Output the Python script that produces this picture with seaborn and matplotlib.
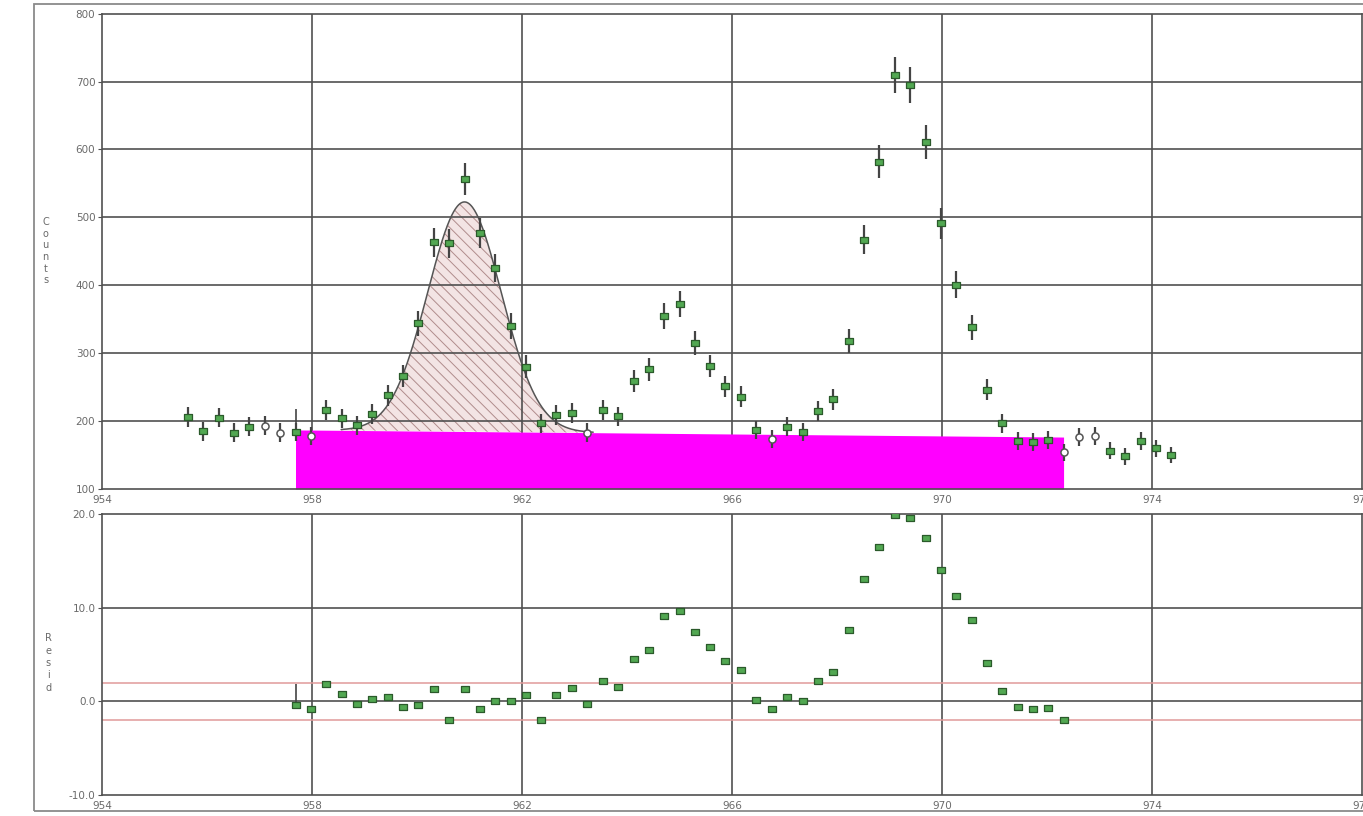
import numpy as np
import pandas as pd
import matplotlib
matplotlib.use("Agg")
import matplotlib.pyplot as plt
from matplotlib.patches import Rectangle
import seaborn as sns

# ---- spectrum channels (keV) and counts ----
energy_kev = [955.63, 955.92, 956.22, 956.51, 956.80, 957.09, 957.39, 957.68, 957.97, 958.26,
              958.56, 958.85, 959.14, 959.44, 959.73, 960.02, 960.31, 960.61, 960.90, 961.19,
              961.48, 961.78, 962.07, 962.36, 962.65, 962.95, 963.24, 963.53, 963.83, 964.12,
              964.41, 964.70, 965.00, 965.29, 965.58, 965.87, 966.17, 966.46, 966.75, 967.05,
              967.34, 967.63, 967.92, 968.22, 968.51, 968.80, 969.09, 969.39, 969.68, 969.97,
              970.27, 970.56, 970.85, 971.14, 971.44, 971.73, 972.02, 972.31, 972.61, 972.90,
              973.19, 973.48, 973.78, 974.07, 974.36]
counts = [206, 185, 205, 183, 192, 193, 183, 184, 178, 217,
          204, 194, 210, 238, 266, 344, 463, 462, 556, 477,
          426, 340, 280, 197, 209, 212, 183, 217, 207, 259,
          276, 355, 372, 315, 281, 251, 236, 187, 173, 192,
          184, 215, 232, 318, 467, 582, 709, 695, 611, 491,
          401, 338, 246, 197, 171, 169, 172, 154, 177, 178,
          156, 148, 171, 160, 150]
# channels not used by the fit (drawn as open symbols)
excluded_channels = [5, 6, 8, 26, 38, 57, 58, 59]

# fit region: first and last channel index
fit_first, fit_last = 7, 57
# normalised residuals for the channels of the fit region
residuals = [-0.36, -0.86, 1.86, 0.82, -0.25, 0.29, 0.43, -0.64, -0.36, 1.32,
             -1.96, 1.29, -0.86, 0.07, 0.07, 0.64, -1.96, 0.71, 1.43, -0.25,
             2.18, 1.50, 4.54, 5.46, 9.10, 9.68, 7.36, 5.82, 4.32, 3.39,
             0.10, -0.82, 0.46, 0.00, 2.18, 3.18, 7.60, 13.10, 16.50, 19.90,
             19.60, 17.40, 14.00, 11.20, 8.70, 4.14, 1.07, -0.60, -0.82, -0.71,
             -1.96]

# linear background under the fit region
bg_left, bg_right = 187.0, 176.5
# fitted gaussian peak
peak_centroid, peak_sigma, peak_height = 960.90, 0.70, 338.0
peak_span = (958.55, 963.35)
# residual acceptance band
resid_limit = 2.0
# region-start marker
roi_tick_counts = (184, 218)
roi_tick_resid = (-0.36, 1.9)

x_ticks = [954, 958, 962, 966, 970, 974, 978]
count_ticks = [100, 200, 300, 400, 500, 600, 700, 800]
resid_ticks = [-10.0, 0.0, 10.0, 20.0]

# ---- styling ----
sns.set_theme(style="white")
plt.rcParams["font.family"] = ["DejaVu Sans"]
plt.rcParams["hatch.linewidth"] = 0.7

GRID = "#505050"
TEXT = "#6a6a6a"
GREEN_FACE = "#52a852"
GREEN_EDGE = "#2b5a2b"
rect_marker = [(-1.35, -1.0), (1.35, -1.0), (1.35, 1.0), (-1.35, 1.0), (-1.35, -1.0)]

fig = plt.figure(figsize=(13.63, 8.16), dpi=100)
fig.patch.set_facecolor("white")
fig.patches.append(Rectangle((34 / 1363, 5 / 816), 1.2, 807 / 816,
                             transform=fig.transFigure, fill=False,
                             edgecolor="#8a8a8a", linewidth=1.3))

ax_top = fig.add_axes([102.3 / 1363, 1 - 489 / 816, 1260 / 1363, (489 - 13.6) / 816])
ax_bot = fig.add_axes([102.3 / 1363, 1 - 795 / 816, 1260 / 1363, (795 - 514) / 816])

df = pd.DataFrame({"energy": energy_kev, "counts": counts})
df["err"] = np.sqrt(df["counts"])
df["used"] = ~df.index.isin(excluded_channels)

# ---- upper panel: spectrum ----
ax = ax_top
ax.set_xlim(954, 978)
ax.set_ylim(100, 800)
ax.set_axisbelow(True)
for xv in x_ticks[1:-1]:
    ax.axvline(xv, color=GRID, lw=1.2, zorder=0.5)
for yv in count_ticks[1:-1]:
    ax.axhline(yv, color=GRID, lw=1.2, zorder=0.5)

fit_x = np.array(energy_kev[fit_first:fit_last + 1])
bg_line = np.interp(fit_x, [energy_kev[fit_first], energy_kev[fit_last]], [bg_left, bg_right])
ax.fill_between(fit_x, 100, bg_line, color="#ff00ff", lw=0, zorder=1)

xg = np.linspace(peak_span[0], peak_span[1], 400)
bg_g = np.interp(xg, [energy_kev[fit_first], energy_kev[fit_last]], [bg_left, bg_right])
yg = bg_g + peak_height * np.exp(-0.5 * ((xg - peak_centroid) / peak_sigma) ** 2)
ax.fill_between(xg, bg_g, yg, facecolor="#f3e4e4", edgecolor="#b08c8c",
                hatch="\\\\\\", lw=0, zorder=0.3)
ax.plot(xg, yg, color="#555555", lw=1.1, zorder=1.5)

ax.vlines(df["energy"], df["counts"] - df["err"], df["counts"] + df["err"],
          color="#444444", lw=1.6, zorder=2)
ax.vlines(energy_kev[fit_first], *roi_tick_counts, color="#444444", lw=1.2, zorder=2)
sns.scatterplot(data=df[df["used"]], x="energy", y="counts", ax=ax,
                marker=rect_marker, s=34, color=GREEN_FACE, edgecolor=GREEN_EDGE,
                linewidth=0.9, legend=False, zorder=3)
sns.scatterplot(data=df[~df["used"]], x="energy", y="counts", ax=ax,
                marker="o", s=26, color="white", edgecolor="#555555",
                linewidth=1.1, legend=False, zorder=3)

ax.set_xticks(x_ticks)
ax.set_xticklabels([str(v) for v in x_ticks])
ax.set_yticks(count_ticks)
ax.set_yticklabels([str(v) for v in count_ticks])
ax.set_xlabel("")
ax.set_ylabel("")
ax.text(-0.045, 0.50, "\n".join("Counts"), transform=ax.transAxes,
        ha="center", va="center", fontsize=7, color=TEXT, linespacing=1.2)

# ---- lower panel: residuals ----
ax = ax_bot
ax.set_xlim(954, 978)
ax.set_ylim(-10, 20)
for xv in x_ticks[1:-1]:
    ax.axvline(xv, color=GRID, lw=1.2, zorder=0.5)
for yv in [0.0, 10.0]:
    ax.axhline(yv, color=GRID, lw=1.2, zorder=0.5)
for yv in (resid_limit, -resid_limit):
    ax.axhline(yv, color="#e09a9a", lw=1.1, zorder=0.6)

rdf = pd.DataFrame({"energy": energy_kev[fit_first:fit_last + 1], "resid": residuals})
ax.vlines(energy_kev[fit_first], *roi_tick_resid, color="#444444", lw=1.2, zorder=2)
sns.scatterplot(data=rdf, x="energy", y="resid", ax=ax,
                marker=rect_marker, s=30, color=GREEN_FACE, edgecolor=GREEN_EDGE,
                linewidth=0.9, legend=False, zorder=3)

ax.set_xticks(x_ticks)
ax.set_xticklabels([str(v) for v in x_ticks])
ax.set_yticks(resid_ticks)
ax.set_yticklabels([f"{v:.1f}" for v in resid_ticks])
ax.set_xlabel("")
ax.set_ylabel("")
ax.text(-0.043, 0.47, "\n".join("Resid"), transform=ax.transAxes,
        ha="center", va="center", fontsize=7, color=TEXT, linespacing=1.3)

for a in (ax_top, ax_bot):
    for sp in a.spines.values():
        sp.set_color(GRID)
        sp.set_linewidth(1.2)
    a.tick_params(axis="y", left=True, length=3, width=0.8, color=GRID,
                  labelsize=7.5, labelcolor=TEXT, pad=2)
    a.tick_params(axis="x", bottom=False, length=0, labelsize=7.5,
                  labelcolor=TEXT, pad=4)
    a.grid(False)

fig.savefig("out.png", dpi=100, facecolor="white")
